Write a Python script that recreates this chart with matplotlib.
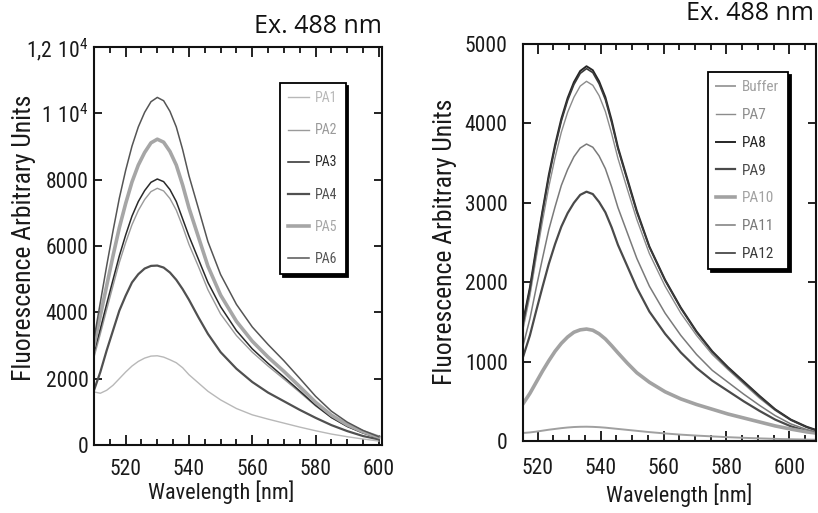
import matplotlib
matplotlib.use("Agg")
import matplotlib.pyplot as plt
from matplotlib.ticker import MultipleLocator, FixedLocator, FixedFormatter
from matplotlib import font_manager

cands = [f for f in font_manager.fontManager.ttflist
         if ('narrow' in f.fname.lower() or 'condensed' in f.fname.lower() or 'narrow' in f.name.lower()
             or 'condensed' in f.name.lower()) and 'bold' not in f.fname.lower()
         and 'oblique' not in f.fname.lower() and 'italic' not in f.fname.lower()]
cands.sort(key=lambda f: (0 if 'liberation' in f.fname.lower() else 1 if 'roboto' in f.fname.lower() else 2))
if cands:
    NARROW = cands[0].name
    STRETCH = cands[0].stretch
    narrow = True
else:
    NARROW = "Liberation Sans"
    STRETCH = 'normal'
    narrow = False
plt.rcParams['font.family'] = [NARROW, 'DejaVu Sans']
plt.rcParams['font.stretch'] = STRETCH
plt.rcParams['mathtext.fontset'] = 'custom'
plt.rcParams['mathtext.rm'] = NARROW

# ---------------- data: left panel ----------------
wl_left = [510, 512, 514, 516, 518, 520, 522, 524, 526, 528, 530, 532, 534, 536, 538,
           540, 543, 546, 550, 555, 560, 565, 570, 575, 580, 585, 590, 595, 600]
pa1 = [1600, 1560, 1650, 1800, 2000, 2200, 2380, 2520, 2620, 2680, 2690, 2650, 2570, 2480, 2330,
       2120, 1870, 1620, 1360, 1100, 910, 780, 660, 540, 430, 330, 250, 180, 120]
pa2 = [2650, 3350, 4080, 4800, 5500, 6100, 6640, 7070, 7400, 7640, 7740, 7660, 7430, 7080, 6590,
       6050, 5380, 4680, 3950, 3300, 2800, 2380, 1990, 1590, 1180, 830, 560, 370, 220]
pa3 = [2800, 3500, 4250, 4980, 5700, 6330, 6900, 7340, 7670, 7920, 8020, 7940, 7700, 7340, 6820,
       6300, 5600, 4900, 4170, 3450, 2900, 2460, 2050, 1630, 1200, 830, 560, 360, 210]
pa4 = [1650, 2200, 2850, 3450, 4050, 4500, 4900, 5150, 5320, 5400, 5410, 5350, 5200, 4980, 4700,
       4380, 3850, 3350, 2800, 2300, 1900, 1580, 1320, 1060, 820, 600, 420, 270, 170]
pa5 = [3000, 3900, 4800, 5700, 6550, 7280, 7930, 8440, 8820, 9110, 9220, 9130, 8850, 8440, 7840,
       7150, 6270, 5390, 4520, 3730, 3130, 2650, 2220, 1760, 1290, 900, 610, 400, 240]
pa6 = [3200, 4300, 5400, 6450, 7440, 8280, 9010, 9590, 10030, 10350, 10480, 10380, 10060, 9590, 8910,
       8120, 7130, 6130, 5140, 4240, 3560, 3030, 2540, 2010, 1470, 1020, 690, 440, 250]

# ---------------- data: right panel ----------------
wl_right = [515, 517.5, 519.5, 521.5, 523.5, 525.5, 527.5, 529.5, 531.5, 533.5, 535.5, 537.5, 539.5,
            541.5, 543.5, 545.5, 548.5, 551.5, 555.5, 560.5, 565.5, 570.5, 575.5, 580.5, 585.5,
            590.5, 595.5, 600.5, 605.5, 608.5]
buffer = [100, 108, 118, 130, 142, 152, 162, 170, 176, 179, 180, 178, 174, 168, 160, 152, 140, 128,
          112, 95, 80, 68, 58, 48, 40, 33, 27, 22, 18, 16]
pa7 = [1350, 1830, 2310, 2770, 3200, 3570, 3890, 4140, 4330, 4470, 4530, 4480, 4350, 4150, 3870,
       3560, 3170, 2790, 2360, 1950, 1610, 1330, 1090, 900, 720, 540, 385, 260, 170, 130]
pa8 = [1440, 1935, 2430, 2900, 3350, 3730, 4060, 4320, 4520, 4660, 4720, 4670, 4530, 4330, 4040,
       3700, 3300, 2900, 2450, 2030, 1680, 1380, 1130, 930, 750, 570, 400, 270, 180, 140]
pa9 = [1020, 1330, 1640, 1940, 2230, 2480, 2700, 2870, 3000, 3100, 3140, 3110, 3010, 2880, 2690,
       2470, 2200, 1930, 1630, 1350, 1115, 920, 760, 630, 500, 380, 270, 185, 125, 100]
pa10 = [450, 600, 740, 880, 1010, 1130, 1230, 1310, 1370, 1400, 1410, 1395, 1350, 1285, 1200,
        1110, 980, 860, 740, 620, 530, 460, 400, 340, 290, 240, 190, 150, 115, 100]
pa11 = [1150, 1540, 1930, 2300, 2660, 2950, 3220, 3420, 3580, 3690, 3740, 3700, 3590, 3430, 3200,
        2940, 2620, 2300, 1950, 1610, 1330, 1090, 890, 740, 590, 450, 320, 215, 145, 115]
pa12 = [1420, 1910, 2400, 2880, 3320, 3700, 4030, 4290, 4490, 4630, 4690, 4640, 4500, 4300, 4010,
        3680, 3280, 2880, 2440, 2020, 1670, 1370, 1120, 920, 740, 560, 395, 265, 175, 135]

left_labels = ["PA1", "PA2", "PA3", "PA4", "PA5", "PA6"]
right_labels = ["Buffer", "PA7", "PA8", "PA9", "PA10", "PA11", "PA12"]
left_yticks = [0, 2000, 4000, 6000, 8000, 10000, 12000]
left_yticklabels = ["0", "2000", "4000", "6000", "8000", r"$\mathregular{1\ 10^4}$", r"$\mathregular{1{,}2\ 10^4}$"]
right_yticks = [0, 1000, 2000, 3000, 4000, 5000]
xticks_left = [520, 540, 560, 580, 600]
xticks_right = [520, 540, 560, 580, 600]
title_text = "Ex. 488 nm"
xlabel_text = "Wavelength [nm]"
ylabel_text = "Fluorescence Arbitrary Units"

W, H = 818, 513
fig = plt.figure(figsize=(W / 100, H / 100), dpi=100)

def frac(x0, y0, x1, y1):
    return [x0 / W, 1 - y1 / H, (x1 - x0) / W, (y1 - y0) / H]

axL = fig.add_axes(frac(94, 47, 382, 445))
axR = fig.add_axes(frac(523, 44, 816, 441))

left_series = [pa1, pa2, pa3, pa4, pa5, pa6]
left_colors = ["#b8b8b8", "#9a9a9a", "#2a2a2a", "#505050", "#a6a6a6", "#555555"]
left_lw = [1.0, 1.0, 1.1, 1.6, 2.6, 1.1]
for y, c, lw, lab in zip(left_series, left_colors, left_lw, left_labels):
    axL.plot(wl_left, y, color=c, lw=lw, label=lab)

right_series = [buffer, pa7, pa8, pa9, pa10, pa11, pa12]
right_colors = ["#a0a0a0", "#8c8c8c", "#262626", "#4a4a4a", "#a2a2a2", "#7a7a7a", "#3a3a3a"]
right_lw = [1.4, 1.0, 1.4, 1.6, 2.6, 1.1, 1.2]
for y, c, lw, lab in zip(right_series, right_colors, right_lw, right_labels):
    axR.plot(wl_right, y, color=c, lw=lw, label=lab)

FS = 15.5 if narrow else 13
XFS = 16 if narrow else 13.5
YFS = 18.5 if narrow else 15
for ax in (axL, axR):
    for s in ax.spines.values():
        s.set_linewidth(1.5)
        s.set_color("#111111")
    ax.xaxis.set_minor_locator(MultipleLocator(5))
    ax.tick_params(axis='both', which='both', direction='in', top=True, right=True,
                   width=1.3, color="#111111", labelsize=FS, labelcolor="#1a1a1a")
    ax.tick_params(axis='x', which='major', length=7)
    ax.tick_params(axis='x', which='minor', length=4)
    ax.tick_params(axis='y', which='major', length=6)

axL.set_xlim(510, 601)
axL.set_ylim(0, 12000)
axL.set_xticks(xticks_left)
axL.yaxis.set_major_locator(FixedLocator(left_yticks))
axL.yaxis.set_major_formatter(FixedFormatter(left_yticklabels))
axL.tick_params(axis='x', which='major', pad=10)
axL.tick_params(axis='y', which='major', pad=4)

axR.set_xlim(515.3, 608.5)
axR.set_ylim(0, 5000)
axR.set_xticks(xticks_right)
axR.set_yticks(right_yticks)
axR.tick_params(axis='x', which='major', pad=12)
axR.tick_params(axis='y', which='major', pad=11)

for ax, xl, yl in ((axL, (0.441, -0.09), (-0.2, 0.521)), (axR, (0.532, -0.106), (-0.225, 0.5025))):
    ax.set_xlabel(xlabel_text, fontsize=XFS, color="#1a1a1a")
    ax.set_ylabel(ylabel_text, fontsize=YFS, color="#1a1a1a")
    ax.xaxis.set_label_coords(*xl)
    ax.yaxis.set_label_coords(*yl)

TFAM = ['Open Sans', 'Lato', 'DejaVu Sans']
axL.text(1.0, 1 + 14 / 398, title_text, transform=axL.transAxes, ha='right', va='baseline',
         fontsize=18, family=TFAM, stretch='normal', color="#111111")
axR.text((814 - 523) / 293, 1 + 24 / 397, title_text, transform=axR.transAxes, ha='right', va='baseline',
         fontsize=18, family=TFAM, stretch='normal', color="#111111")

LFS = 10 if narrow else 8.5
RFS = 11 if narrow else 9.5
legL = axL.legend(loc='upper left', bbox_to_anchor=(0.646, 0.9095), fontsize=LFS, frameon=True,
                  fancybox=False, shadow={'color': 'black', 'alpha': 1.0}, edgecolor='black',
                  handlelength=1.45, handletextpad=0.45, labelspacing=1.3, borderpad=0.6,
                  borderaxespad=0, labelcolor='linecolor', framealpha=1)
legL.get_frame().set_linewidth(1.3)
legR = axR.legend(loc='upper left', bbox_to_anchor=(0.631, 0.9295), fontsize=RFS, frameon=True,
                  fancybox=False, shadow={'color': 'black', 'alpha': 1.0}, edgecolor='black',
                  handlelength=1.2, handletextpad=0.5, labelspacing=0.9, borderpad=0.55,
                  borderaxespad=0, labelcolor='linecolor', framealpha=1)
legR.get_frame().set_linewidth(1.3)

fig.savefig("out.png", dpi=100)
